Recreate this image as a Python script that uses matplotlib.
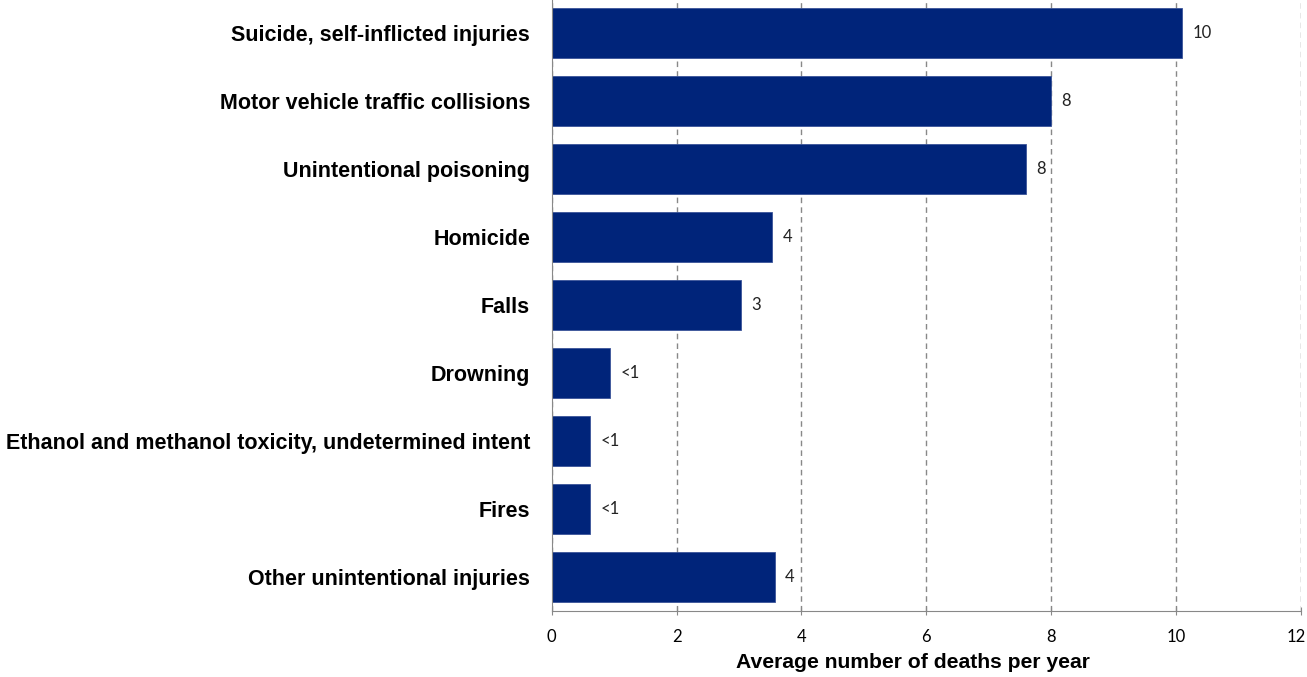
import matplotlib

matplotlib.use("Agg")
import matplotlib.pyplot as plt  # noqa: E402
import matplotlib.transforms as mtransforms  # noqa: E402

# categories top to bottom
categories = [
    "Suicide, self-inflicted injuries",
    "Motor vehicle traffic collisions",
    "Unintentional poisoning",
    "Homicide",
    "Falls",
    "Drowning",
    "Ethanol and methanol toxicity, undetermined intent",
    "Fires",
    "Other unintentional injuries",
]
deaths = [10.1, 8.0, 7.6, 3.53, 3.03, 0.93, 0.61, 0.61, 3.57]
bar_labels = ["10", "8", "8", "4", "3", "<1", "<1", "<1", "4"]
x_ticks = [0, 2, 4, 6, 8, 10, 12]

fig = plt.figure(figsize=(13.07, 6.77), dpi=100)
ax = fig.add_axes([551.7 / 1307, 1 - 611 / 677, 749 / 1307, 611.6 / 677])

y = list(range(len(categories)))
ax.barh(y, deaths, height=0.736, color="#00247A", edgecolor="#3a5499",
        linewidth=0.6, zorder=3)

for yi, v, lab in zip(y, deaths, bar_labels):
    ax.text(v + 0.17, yi, lab, va="center", ha="left", fontsize=12,
            family="Lato", color="#222222")

ax.set_xlim(0, 12)
ax.set_ylim(len(categories) - 0.5, -0.5)
ax.set_xticks(x_ticks)
ax.set_xticklabels([str(t) for t in x_ticks], family="Lato", fontsize=12)
ax.set_yticks(y)
ax.set_yticklabels(categories, family="Liberation Sans", fontweight="bold",
                   fontsize=15.5)
ax.tick_params(axis="y", length=0, pad=15.6)
ax.tick_params(axis="x", direction="inout", length=6, color="#888888", pad=10)

# last tick label sits right at the edge; nudge it a touch left
last = ax.get_xticklabels()[-1]
last.set_transform(last.get_transform() + mtransforms.ScaledTranslation(
    -4 / 100, 0, fig.dpi_scale_trans))

ax.grid(axis="x", linestyle=(0, (4, 3)), color="#888888", linewidth=1, zorder=0)
for s in ["top", "right"]:
    ax.spines[s].set_visible(False)
ax.spines["left"].set_color("#888888")
ax.spines["bottom"].set_color("#888888")
ax.spines["left"].set_zorder(4)

ax.set_xlabel("Average number of deaths per year", family="Liberation Sans",
              fontweight="bold", fontsize=15.2)
ax.xaxis.set_label_coords(0.482, -0.085)
ax.xaxis.label.set_va("center")

fig.savefig("out.png", dpi=100)
plt.close(fig)
